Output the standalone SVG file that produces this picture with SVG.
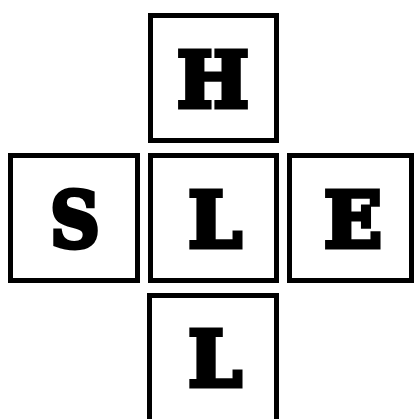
<svg xmlns="http://www.w3.org/2000/svg" width="415" height="419" viewBox="0 0 415 419">
<style>
.box{fill:#fff;stroke:#000;stroke-width:5}
.t{font-family:"DejaVu Serif",serif;font-weight:bold;font-size:76px;fill:#000;stroke:#000;stroke-width:5;stroke-linejoin:miter;text-anchor:middle}
</style>
<rect width="415" height="419" fill="#fff"/>
<g id="connectors"></g>
<g id="node-H"><rect class="box" x="150.5" y="15.5" width="126" height="125"/><text class="t" x="213" y="107">H</text></g>
<g id="node-S"><rect class="box" x="10.5" y="155.5" width="127" height="125"/><text class="t" x="75" y="247" transform="translate(75 0) scale(0.9 1) translate(-75 0)">S</text></g>
<g id="node-L1"><rect class="box" x="150.5" y="155.5" width="126" height="125"/><text class="t" x="215" y="247">L</text></g>
<g id="node-E"><rect class="box" x="289.5" y="155.5" width="122" height="125"/><text class="t" x="353" y="247">E</text></g>
<g id="node-L2"><rect class="box" x="149.5" y="295.5" width="127" height="130"/><text class="t" x="215" y="386">L</text></g>
</svg>
